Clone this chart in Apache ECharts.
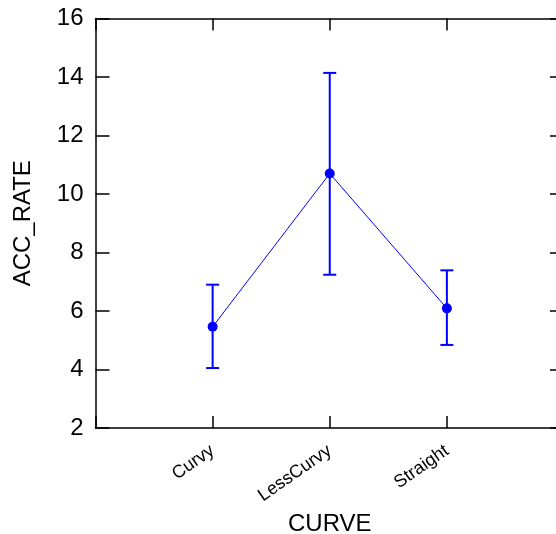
<!DOCTYPE html>
<html>
<head>
<meta charset="utf-8">
<script src="https://cdn.jsdelivr.net/npm/echarts@6/dist/echarts.min.js"></script>
<style>html,body{margin:0;padding:0;background:#fff;overflow:hidden}#c{width:572px;height:534px}</style>
</head>
<body>
<div id="c"></div>
<script>
var categories = ['Curvy', 'LessCurvy', 'Straight'];
var means = [5.46, 10.70, 6.09];
var upper = [6.90, 14.14, 7.39];
var lower = [4.05, 7.24, 4.84];
var yTicks = [2, 4, 6, 8, 10, 12, 14, 16];

var chart = echarts.init(document.getElementById('c'), null, {renderer: 'canvas'});
var font = '"Liberation Sans", Arial, sans-serif';
var lineData = categories.map(function (c, i) { return [i + 1, means[i]]; });
var errData = categories.map(function (c, i) { return [i + 1, lower[i], upper[i]]; });

var option = {
  animation: false,
  grid: {left: 95.5, top: 18.5, bottom: 106, right: 8, containLabel: false, outerBoundsMode: 'none'},
  xAxis: [{
    type: 'value', min: 0, max: 4, interval: 1,
    name: 'CURVE', nameLocation: 'middle', nameGap: 84,
    nameTextStyle: {fontFamily: font, fontSize: 24, color: '#000'},
    axisLine: {show: true, onZero: false, lineStyle: {color: '#000', width: 1.5}},
    axisTick: {show: true, inside: true, length: 12, lineStyle: {color: '#000', width: 1.5}},
    splitLine: {show: false},
    axisLabel: {
      rotate: 35, fontFamily: font, fontSize: 18, color: '#000', margin: 21,
      formatter: function (v) { return categories[v - 1] || ''; }
    }
  }, {
    type: 'value', position: 'top', min: 0, max: 4, interval: 1,
    axisLine: {show: true, onZero: false, lineStyle: {color: '#000', width: 1.5}},
    axisTick: {show: true, inside: true, length: 12, lineStyle: {color: '#000', width: 1.5}},
    axisLabel: {show: false}, splitLine: {show: false}
  }],
  yAxis: [{
    type: 'value', min: yTicks[0], max: yTicks[yTicks.length - 1], interval: 2,
    name: 'ACC_RATE', nameLocation: 'middle', nameGap: 60, nameRotate: 90,
    nameTextStyle: {fontFamily: font, fontSize: 24, color: '#000'},
    axisLine: {show: true, onZero: false, lineStyle: {color: '#000', width: 1.5}},
    axisTick: {show: true, inside: true, length: 14, lineStyle: {color: '#000', width: 1.5}},
    axisLabel: {fontFamily: font, fontSize: 24, color: '#000', margin: 12},
    splitLine: {show: false}
  }, {
    type: 'value', position: 'right', min: yTicks[0], max: yTicks[yTicks.length - 1], interval: 2,
    axisLine: {show: true, onZero: false, lineStyle: {color: '#000', width: 1.5}},
    axisTick: {show: true, inside: true, length: 14, lineStyle: {color: '#000', width: 1.5}},
    axisLabel: {show: false}, splitLine: {show: false}
  }],
  series: [{
    type: 'line', data: lineData, xAxisIndex: 0, yAxisIndex: 0,
    symbol: 'circle', symbolSize: 10,
    lineStyle: {color: '#0000ff', width: 1},
    itemStyle: {color: '#0000ff'}, z: 3
  }, {
    type: 'custom', data: errData, xAxisIndex: 0, yAxisIndex: 0,
    encode: {x: 0, y: [1, 2]},
    renderItem: function (params, api) {
      var x = api.value(0);
      var lo = api.coord([x, api.value(1)]);
      var hi = api.coord([x, api.value(2)]);
      var hw = 6.5;
      var st = {stroke: '#0000ff', lineWidth: 2};
      return {type: 'group', children: [
        {type: 'line', shape: {x1: lo[0], y1: lo[1], x2: hi[0], y2: hi[1]}, style: st},
        {type: 'line', shape: {x1: lo[0] - hw, y1: lo[1], x2: lo[0] + hw, y2: lo[1]}, style: st},
        {type: 'line', shape: {x1: hi[0] - hw, y1: hi[1], x2: hi[0] + hw, y2: hi[1]}, style: st}
      ]};
    }, z: 2
  }]
};
chart.setOption(option);
</script>
</body>
</html>
